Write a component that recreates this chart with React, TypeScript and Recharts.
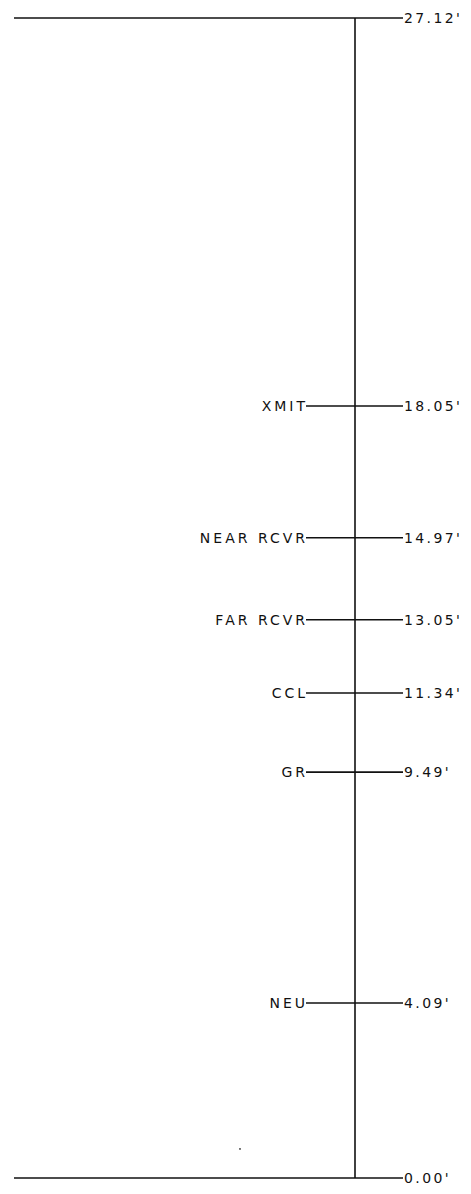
import { ComposedChart, XAxis, YAxis, Scatter, ReferenceLine, ReferenceDot } from 'recharts';

// elevations above grade, in feet
const LABELS = ['', 'NEU', 'GR', 'CCL', 'FAR RCVR', 'NEAR RCVR', 'XMIT', ''];
const ELEVATIONS = [0.0, 4.09, 9.49, 11.34, 13.05, 14.97, 18.05, 27.12];
const TOP = 27.12;

const POLE_X = 355;
const LABEL_END_X = 306;
const DATUM_START_X = 14;
const TICK_END_X = 403;

const FONT = '"DejaVu Sans", sans-serif';

const rows = LABELS.map((label, i) => ({
  x: POLE_X,
  y: ELEVATIONS[i],
  label,
  elev: ELEVATIONS[i].toFixed(2) + "'",
}));

type ShapeProps = {
  cx?: number;
  cy?: number;
  payload?: { label: string; elev: string };
};

function Marker({ cy, payload }: ShapeProps) {
  if (cy == null || !payload) return <g />;
  const datum = payload.label === '';
  const x1 = datum ? DATUM_START_X : LABEL_END_X;
  return (
    <g>
      <line x1={x1} y1={cy} x2={TICK_END_X} y2={cy} stroke="#111" strokeWidth={1.6} />
      {!datum && (
        <text
          x={LABEL_END_X + 2}
          y={cy}
          dy={5}
          textAnchor="end"
          fontFamily={FONT}
          fontSize={14}
          letterSpacing={3}
          fill="#111"
        >
          {payload.label}
        </text>
      )}
      <text
        x={TICK_END_X + 1}
        y={cy}
        dy={5}
        fontFamily={FONT}
        fontSize={14}
        letterSpacing={2.4}
        fill="#111"
      >
        {payload.elev}
      </text>
    </g>
  );
}

export default function App() {
  return (
    <div style={{ position: 'absolute', left: 0, top: 0, background: '#fff' }}>
      <ComposedChart
        width={471}
        height={1194}
        margin={{ top: 18, right: 0, bottom: 16, left: 0 }}
      >
        <XAxis type="number" dataKey="x" domain={[0, 471]} hide />
        <YAxis type="number" dataKey="y" domain={[0, TOP]} hide />
        <ReferenceLine x={POLE_X} stroke="#111" strokeWidth={1.6} />
        <ReferenceDot x={240} y={0.68} r={0.9} fill="#333" stroke="none" />
        <Scatter data={rows} shape={<Marker />} isAnimationActive={false} />
      </ComposedChart>
    </div>
  );
}
